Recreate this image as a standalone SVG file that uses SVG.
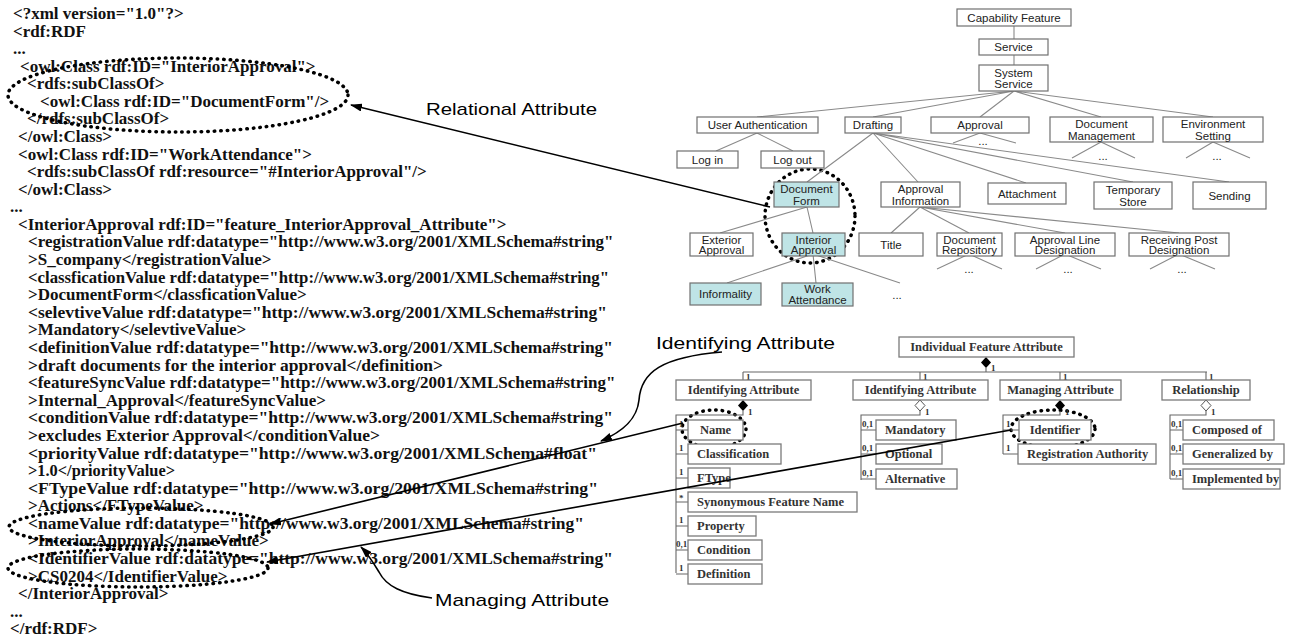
<svg xmlns="http://www.w3.org/2000/svg" width="1297" height="640" viewBox="0 0 1297 640">
<style>
.code{font-family:"Liberation Serif","Times New Roman",serif;font-size:17px;font-weight:bold;fill:#111}
.lbl{font-family:"Liberation Sans",Arial,sans-serif;font-size:17px;fill:#000}
.tb{fill:#fff;stroke:#707070;stroke-width:1.2}
.tc{fill:#bfe4e6;stroke:#707070;stroke-width:1.2}
.tt{font-family:"Liberation Sans",Arial,sans-serif;font-size:11.5px;fill:#222;text-anchor:middle}
.tl{stroke:#8a8a8a;stroke-width:1.1;fill:none}
.ub{fill:#fff;stroke:#7a7a7a;stroke-width:1.3}
.ut{font-family:"Liberation Serif","Times New Roman",serif;font-size:12.5px;font-weight:bold;fill:#333}
.um{font-family:"Liberation Serif","Times New Roman",serif;font-size:9px;font-weight:bold;fill:#333}
.ul{stroke:#666;stroke-width:1.1;fill:none}
.dot{fill:none;stroke:#000;stroke-width:3.5;stroke-dasharray:0.5 6;stroke-linecap:round}
.arr{stroke:#000;stroke-width:1.6;fill:none}
</style>
<defs>
<marker id="ah" markerUnits="userSpaceOnUse" markerWidth="12" markerHeight="8" refX="11" refY="4" orient="auto">
<path d="M0,0 L12,4 L0,8 z" fill="#000"/>
</marker>
</defs>

<g id="xml-code">
<text class="code" x="13" y="19">&lt;?xml version="1.0"?&gt;</text>
<text class="code" x="13" y="37">&lt;rdf:RDF</text>
<text class="code" x="13" y="54">...</text>
<text class="code" x="20" y="72">&lt;owl:Class rdf:ID="InteriorApproval"&gt;</text>
<text class="code" x="27" y="89">&lt;rdfs:subClassOf&gt;</text>
<text class="code" x="40" y="107">&lt;owl:Class rdf:ID="DocumentForm"/&gt;</text>
<text class="code" x="27" y="124">&lt;/rdfs:subClassOf&gt;</text>
<text class="code" x="18" y="142">&lt;/owl:Class&gt;</text>
<text class="code" x="18" y="160">&lt;owl:Class rdf:ID="WorkAttendance"&gt;</text>
<text class="code" x="27" y="177">&lt;rdfs:subClassOf rdf:resource="#InteriorApproval"/&gt;</text>
<text class="code" x="18" y="195">&lt;/owl:Class&gt;</text>
<text class="code" x="10" y="212">...</text>
<text class="code" x="18" y="230">&lt;InteriorApproval rdf:ID="feature_InteriorApproval_Attribute"&gt;</text>
<text class="code" x="28" y="247">&lt;registrationValue rdf:datatype="http://www.w3.org/2001/XMLSchema#string"</text>
<text class="code" x="28" y="265">&gt;S_company&lt;/registrationValue&gt;</text>
<text class="code" x="28" y="283" textLength="581" lengthAdjust="spacingAndGlyphs">&lt;classficationValue rdf:datatype="http://www.w3.org/2001/XMLSchema#string"</text>
<text class="code" x="28" y="300">&gt;DocumentForm&lt;/classficationValue&gt;</text>
<text class="code" x="28" y="318" textLength="579" lengthAdjust="spacingAndGlyphs">&lt;selevtiveValue rdf:datatype="http://www.w3.org/2001/XMLSchema#string"</text>
<text class="code" x="28" y="335">&gt;Mandatory&lt;/selevtiveValue&gt;</text>
<text class="code" x="28" y="353" textLength="585" lengthAdjust="spacingAndGlyphs">&lt;definitionValue rdf:datatype="http://www.w3.org/2001/XMLSchema#string"</text>
<text class="code" x="28" y="371" textLength="415" lengthAdjust="spacingAndGlyphs">&gt;draft documents for the interior approval&lt;/definition&gt;</text>
<text class="code" x="28" y="388">&lt;featureSyncValue rdf:datatype="http://www.w3.org/2001/XMLSchema#string"</text>
<text class="code" x="28" y="406">&gt;Internal_Approval&lt;/featureSyncValue&gt;</text>
<text class="code" x="28" y="423" textLength="585" lengthAdjust="spacingAndGlyphs">&lt;conditionValue rdf:datatype="http://www.w3.org/2001/XMLSchema#string"</text>
<text class="code" x="28" y="441" textLength="352" lengthAdjust="spacingAndGlyphs">&gt;excludes Exterior Approval&lt;/conditionValue&gt;</text>
<text class="code" x="28" y="459" textLength="569" lengthAdjust="spacingAndGlyphs">&lt;priorityValue rdf:datatype="http://www.w3.org/2001/XMLSchema#float"</text>
<text class="code" x="28" y="476" textLength="147" lengthAdjust="spacingAndGlyphs">&gt;1.0&lt;/priorityValue&gt;</text>
<text class="code" x="28" y="494" textLength="570" lengthAdjust="spacingAndGlyphs">&lt;FTypeValue rdf:datatype="http://www.w3.org/2001/XMLSchema#string"</text>
<text class="code" x="28" y="511">&gt;Actions&lt;/FTypeValue&gt;</text>
<text class="code" x="28" y="529" textLength="556" lengthAdjust="spacingAndGlyphs">&lt;nameValue rdf:datatype="http://www.w3.org/2001/XMLSchema#string"</text>
<text class="code" x="28" y="546">&gt;InteriorApproval&lt;/nameValue&gt;</text>
<text class="code" x="28" y="564" textLength="585" lengthAdjust="spacingAndGlyphs">&lt;IdentifierValue rdf:datatype="http://www.w3.org/2001/XMLSchema#string"</text>
<text class="code" x="28" y="582">&gt;CS0204&lt;/IdentifierValue&gt;</text>
<text class="code" x="18" y="599">&lt;/InteriorApproval&gt;</text>
<text class="code" x="10" y="617">...</text>
<text class="code" x="10" y="634">&lt;/rdf:RDF&gt;</text>
</g>

<g id="highlight-ellipses">
<ellipse class="dot" cx="178" cy="95" rx="170" ry="37"/>
<ellipse class="dot" cx="141" cy="527" rx="132" ry="19"/>
<ellipse class="dot" cx="138" cy="568" rx="130" ry="19"/>
<ellipse class="dot" cx="810" cy="216" rx="45" ry="47"/>
<ellipse class="dot" cx="714" cy="429" rx="32" ry="19"/>
<ellipse class="dot" cx="1053" cy="429" rx="42" ry="19"/>
</g>

<g id="tree-connectors">
<path class="tl" d="M1014,26 V39 M1014,55 V65"/>
<path class="tl" d="M1014,91 L757,117 M1014,91 L873,117 M1014,91 L980,117 M1014,91 L1101,117 M1014,91 L1213,117"/>
<path class="tl" d="M757,133 L716,151 M757,133 L793,151"/>
<path class="tl" d="M873,133 L807,182 M873,133 L918,182 M873,133 L1026,183 M873,133 L1133,182 M873,133 L1229,182"/>
<path class="tl" d="M980,133 L953,143 M980,133 L1016,143"/>
<path class="tl" d="M1101,142 L1072,158 M1101,142 L1135,158"/>
<path class="tl" d="M1213,142 L1186,158 M1213,142 L1250,158"/>
<path class="tl" d="M807,207 L720,233 M807,207 L813,233"/>
<path class="tl" d="M920,207 L891,233 M920,207 L969,233 M920,207 L1065,233 M920,207 L1179,233"/>
<path class="tl" d="M969,254 L937,269 M969,254 L1002,269 M1065,254 L1036,269 M1065,254 L1101,269 M1179,254 L1150,269 M1179,254 L1215,269"/>
<path class="tl" d="M813,254 L727,283 M813,254 L816,283 M813,254 L900,283"/>
</g>

<g id="tree-nodes">
<g id="n-capability"><rect class="tb" x="957" y="9" width="114" height="17"/><text class="tt" x="1014" y="21.5">Capability Feature</text></g>
<g id="n-service"><rect class="tb" x="979" y="39" width="69" height="16"/><text class="tt" x="1013.5" y="51">Service</text></g>
<g id="n-system-service"><rect class="tb" x="979" y="65" width="69" height="26"/><text class="tt" x="1013.5" y="76.5">System</text><text class="tt" x="1013.5" y="88">Service</text></g>
<g id="n-user-auth"><rect class="tb" x="697" y="117" width="121" height="16"/><text class="tt" x="757.5" y="129">User Authentication</text></g>
<g id="n-drafting"><rect class="tb" x="845" y="117" width="56" height="16"/><text class="tt" x="873" y="129">Drafting</text></g>
<g id="n-approval"><rect class="tb" x="931" y="117" width="98" height="16"/><text class="tt" x="980" y="129">Approval</text></g>
<g id="n-doc-mgmt"><rect class="tb" x="1050" y="117" width="103" height="25"/><text class="tt" x="1101.5" y="128">Document</text><text class="tt" x="1101.5" y="139.5">Management</text></g>
<g id="n-env"><rect class="tb" x="1163" y="117" width="100" height="25"/><text class="tt" x="1213" y="128">Environment</text><text class="tt" x="1213" y="139.5">Setting</text></g>
<text class="tt" x="983" y="145">...</text>
<text class="tt" x="1103" y="160">...</text>
<text class="tt" x="1217" y="160">...</text>
<g id="n-login"><rect class="tb" x="677" y="151" width="61" height="17"/><text class="tt" x="707.5" y="163.5">Log in</text></g>
<g id="n-logout"><rect class="tb" x="761" y="151" width="63" height="17"/><text class="tt" x="792.5" y="163.5">Log out</text></g>
<g id="n-docform"><rect class="tc" x="774" y="182" width="65" height="25"/><text class="tt" x="806.5" y="193">Document</text><text class="tt" x="806.5" y="204.5">Form</text></g>
<g id="n-approval-info"><rect class="tb" x="881" y="182" width="79" height="25"/><text class="tt" x="920.5" y="193">Approval</text><text class="tt" x="920.5" y="204.5">Information</text></g>
<g id="n-attachment"><rect class="tb" x="988" y="183" width="78" height="21"/><text class="tt" x="1027" y="197.5">Attachment</text></g>
<g id="n-temp-store"><rect class="tb" x="1094" y="182" width="78" height="27"/><text class="tt" x="1133" y="194">Temporary</text><text class="tt" x="1133" y="205.5">Store</text></g>
<g id="n-sending"><rect class="tb" x="1193" y="182" width="73" height="27"/><text class="tt" x="1229.5" y="199.5">Sending</text></g>
<g id="n-exterior"><rect class="tb" x="690" y="233" width="63" height="23"/><text class="tt" x="721.5" y="243.5">Exterior</text><text class="tt" x="721.5" y="254">Approval</text></g>
<g id="n-interior"><rect class="tc" x="782" y="233" width="63" height="23"/><text class="tt" x="813.5" y="243.5">Interior</text><text class="tt" x="813.5" y="254">Approval</text></g>
<g id="n-title"><rect class="tb" x="859" y="233" width="64" height="23"/><text class="tt" x="891" y="248.5">Title</text></g>
<g id="n-doc-repo"><rect class="tb" x="937" y="233" width="65" height="23"/><text class="tt" x="969.5" y="243.5">Document</text><text class="tt" x="969.5" y="254">Repository</text></g>
<g id="n-approval-line"><rect class="tb" x="1015" y="233" width="100" height="23"/><text class="tt" x="1065" y="243.5">Approval Line</text><text class="tt" x="1065" y="254">Designation</text></g>
<g id="n-receiving"><rect class="tb" x="1129" y="233" width="100" height="23"/><text class="tt" x="1179" y="243.5">Receiving Post</text><text class="tt" x="1179" y="254">Designation</text></g>
<text class="tt" x="969" y="273">...</text>
<text class="tt" x="1068" y="273">...</text>
<text class="tt" x="1182" y="273">...</text>
<g id="n-informality"><rect class="tc" x="690" y="283" width="71" height="22"/><text class="tt" x="725.5" y="298">Informality</text></g>
<g id="n-work-att"><rect class="tc" x="782" y="283" width="71" height="23"/><text class="tt" x="817.5" y="293">Work</text><text class="tt" x="817.5" y="304">Attendance</text></g>
<text class="tt" x="897" y="299">...</text>
</g>

<g id="uml-connectors">
<path class="ul" d="M986,368 V372 M743,372 H1207 M743,372 V380 M920,372 V380 M1060,372 V380 M1206,372 V380"/>
<path d="M986,357 L991,362.5 L986,368 L981,362.5 z" fill="#000"/>
<path class="ul" d="M743,411 V415 H676 V573 M676,430 H688 M676,454 H688 M676,478 H688 M676,502 H688 M676,526 H688 M676,550 H688 M676,574 H688"/>
<path class="ul" d="M920,411 V415 H861 V480 M861,430 H876 M861,454 H876 M861,479 H876"/>
<path class="ul" d="M1060,411 V415 H1003 V454 M1003,430 H1019 M1003,454 H1018"/>
<path class="ul" d="M1206,411 V415 H1170 V479 M1170,430 H1183 M1170,454 H1183 M1170,479 H1183"/>
<path d="M743,400 L748,405.5 L743,411 L738,405.5 z" fill="#000"/>
<path d="M920,400 L925,405.5 L920,411 L915,405.5 z" fill="#fff" stroke="#555" stroke-width="1"/>
<path d="M1060,400 L1065,405.5 L1060,411 L1055,405.5 z" fill="#000"/>
<path d="M1206,400 L1211,405.5 L1206,411 L1201,405.5 z" fill="#fff" stroke="#555" stroke-width="1"/>
</g>

<g id="uml-labels">
<text class="um" x="991" y="371">1</text>
<text class="um" x="746" y="380">1</text>
<text class="um" x="923" y="380">1</text>
<text class="um" x="1063" y="380">1</text>
<text class="um" x="1209" y="380">1</text>
<text class="um" x="748" y="415">1</text>
<text class="um" x="925" y="415">1</text>
<text class="um" x="1065" y="415">1</text>
<text class="um" x="1211" y="415">1</text>
<text class="um" x="679" y="427">1</text>
<text class="um" x="679" y="451">1</text>
<text class="um" x="679" y="475">1</text>
<text class="um" x="679" y="501">*</text>
<text class="um" x="679" y="523">1</text>
<text class="um" x="676" y="547">0,1</text>
<text class="um" x="679" y="571">1</text>
<text class="um" x="862" y="427">0,1</text>
<text class="um" x="862" y="451">0,1</text>
<text class="um" x="862" y="476">0,1</text>
<text class="um" x="1006" y="427">1</text>
<text class="um" x="1006" y="451">1</text>
<text class="um" x="1171" y="427">0,1</text>
<text class="um" x="1171" y="451">0,1</text>
<text class="um" x="1171" y="476">0,1</text>
</g>

<g id="uml-nodes">
<g id="u-ifa"><rect class="ub" x="899" y="337" width="175" height="20"/><text class="ut" x="986.5" y="351" text-anchor="middle">Individual Feature Attribute</text></g>
<g id="u-ida1"><rect class="ub" x="676" y="380" width="135" height="20"/><text class="ut" x="743.5" y="394" text-anchor="middle">Identifying Attribute</text></g>
<g id="u-ida2"><rect class="ub" x="853" y="380" width="135" height="20"/><text class="ut" x="920.5" y="394" text-anchor="middle">Identifying Attribute</text></g>
<g id="u-ma"><rect class="ub" x="1000" y="380" width="121" height="20"/><text class="ut" x="1060.5" y="394" text-anchor="middle">Managing Attribute</text></g>
<g id="u-rel"><rect class="ub" x="1162" y="380" width="88" height="20"/><text class="ut" x="1206" y="394" text-anchor="middle">Relationship</text></g>
<g id="u-name"><rect class="ub" x="688" y="420" width="55" height="20"/><text class="ut" x="715.5" y="434" text-anchor="middle">Name</text></g>
<g id="u-class"><rect class="ub" x="688" y="444" width="93" height="20"/><text class="ut" x="697" y="458">Classification</text></g>
<g id="u-ftype"><rect class="ub" x="688" y="468" width="42" height="20"/><text class="ut" x="697" y="482">FType</text></g>
<g id="u-syn"><rect class="ub" x="688" y="492" width="169" height="20"/><text class="ut" x="697" y="506">Synonymous Feature Name</text></g>
<g id="u-prop"><rect class="ub" x="688" y="516" width="68" height="20"/><text class="ut" x="697" y="530">Property</text></g>
<g id="u-cond"><rect class="ub" x="688" y="540" width="74" height="20"/><text class="ut" x="697" y="554">Condition</text></g>
<g id="u-def"><rect class="ub" x="688" y="564" width="74" height="20"/><text class="ut" x="697" y="578">Definition</text></g>
<g id="u-mand"><rect class="ub" x="876" y="420" width="80" height="20"/><text class="ut" x="885" y="434">Mandatory</text></g>
<g id="u-opt"><rect class="ub" x="876" y="444" width="66" height="20"/><text class="ut" x="885" y="458">Optional</text></g>
<g id="u-alt"><rect class="ub" x="876" y="469" width="81" height="20"/><text class="ut" x="885" y="483">Alternative</text></g>
<g id="u-ident"><rect class="ub" x="1019" y="420" width="72" height="20"/><text class="ut" x="1055" y="434" text-anchor="middle">Identifier</text></g>
<g id="u-regauth"><rect class="ub" x="1018" y="444" width="138" height="20"/><text class="ut" x="1027" y="458">Registration Authority</text></g>
<g id="u-comp"><rect class="ub" x="1183" y="420" width="91" height="20"/><text class="ut" x="1192" y="434">Composed of</text></g>
<g id="u-gen"><rect class="ub" x="1183" y="444" width="101" height="20"/><text class="ut" x="1192" y="458">Generalized by</text></g>
<g id="u-impl"><rect class="ub" x="1183" y="469" width="97" height="20"/><text class="ut" x="1192" y="483">Implemented by</text></g>
</g>

<g id="annotation-arrows">
<path class="arr" d="M770,207 L351,105" marker-end="url(#ah)"/>
<path class="arr" d="M683,423 L270,524" marker-end="url(#ah)"/>
<path class="arr" d="M1011,430 L267,562" marker-end="url(#ah)"/>
<path class="arr" d="M722,352 C662,357 641,372 639,400 C637,420 622,432 601,441" marker-end="url(#ah)"/>
<path class="arr" d="M432,598 C402,594 386,586 379,572 C373,562 368,554 361,547" marker-end="url(#ah)"/>
</g>

<g id="annotation-labels">
<text class="lbl" x="426" y="115" textLength="171" lengthAdjust="spacingAndGlyphs">Relational Attribute</text>
<text class="lbl" x="656" y="349" textLength="179" lengthAdjust="spacingAndGlyphs">Identifying Attribute</text>
<text class="lbl" x="435" y="606" textLength="174" lengthAdjust="spacingAndGlyphs">Managing Attribute</text>
</g>
</svg>
